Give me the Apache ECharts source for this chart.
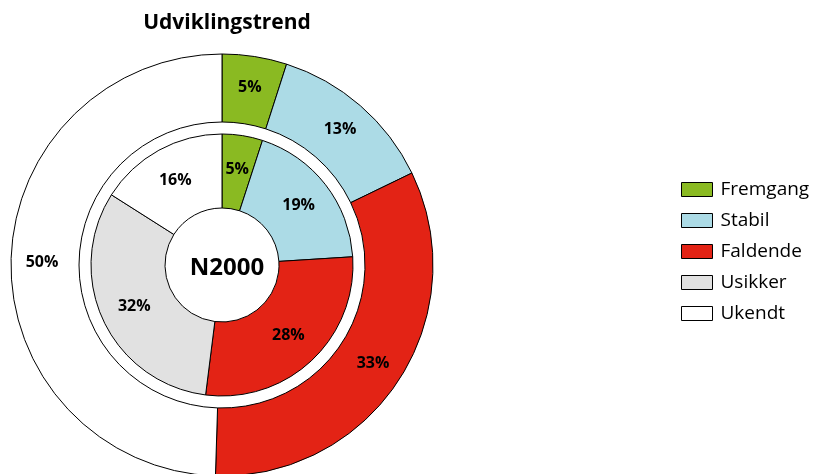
<!DOCTYPE html>
<html>
<head>
<meta charset="utf-8">
<script src="https://cdn.jsdelivr.net/npm/echarts@6/dist/echarts.min.js"></script>
<style>
  html, body { margin: 0; padding: 0; background: #fff; }
  #chart { width: 817px; height: 474px; }
</style>
</head>
<body>
<div id="chart"></div>
<script>
var categories = ['Fremgang', 'Stabil', 'Faldende', 'Usikker', 'Ukendt'];
var colors = ['#8aba22', '#acdbe6', '#e32315', '#e1e1e1', '#ffffff'];
// inner ring (alle)
var innerValues = [5, 19, 28, 32, 16];
// outer ring (no Usikker)
var outerNames = ['Fremgang', 'Stabil', 'Faldende', 'Ukendt'];
var outerValues = [5, 13, 33, 50];

function colorOf(name) { return colors[categories.indexOf(name)]; }

var innerData = categories.map(function (c, i) {
  return { name: c, value: innerValues[i], itemStyle: { color: colors[i] } };
});
var outerData = outerNames.map(function (c, i) {
  return { name: c, value: outerValues[i], itemStyle: { color: colorOf(c) } };
});

var font = '"Open Sans", "Noto Sans", sans-serif';
var labelStyle = {
  show: true,
  position: 'inside',
  formatter: '{c}%',
  color: '#000',
  fontFamily: font,
  fontWeight: 'bold',
  fontSize: 16
};

var mychart = echarts.init(document.getElementById('chart'));
var option = {
  animation: false,
  title: [
    {
      text: 'Udviklingstrend',
      left: 222,
      top: 8,
      textAlign: 'center',
      textStyle: { fontFamily: font, fontWeight: 'bold', fontSize: 21, color: '#000' }
    },
    {
      text: 'N2000',
      left: 222,
      top: 251,
      textAlign: 'center',
      textStyle: { fontFamily: font, fontWeight: 'bold', fontSize: 24, color: '#000' }
    }
  ],
  legend: {
    orient: 'vertical',
    left: 681,
    top: 180,
    padding: 0,
    icon: 'rect',
    itemWidth: 31,
    itemHeight: 14,
    itemGap: 12,
    data: categories,
    itemStyle: { borderColor: '#000', borderWidth: 1 },
    textStyle: { fontFamily: font, fontSize: 19, lineHeight: 19, color: '#000', padding: [0, 0, 0, 3] }
  },
  series: [
    {
      type: 'pie',
      center: [222, 265],
      radius: [57, 131],
      startAngle: 90,
      clockwise: true,
      silent: true,
      itemStyle: { borderColor: '#000', borderWidth: 1 },
      label: labelStyle,
      labelLine: { show: false },
      data: innerData
    },
    {
      type: 'pie',
      center: [222, 265],
      radius: [143, 211],
      startAngle: 90,
      clockwise: true,
      silent: true,
      itemStyle: { borderColor: '#000', borderWidth: 1 },
      label: labelStyle,
      labelLine: { show: false },
      data: outerData
    }
  ]
};
mychart.setOption(option);
</script>
</body>
</html>
